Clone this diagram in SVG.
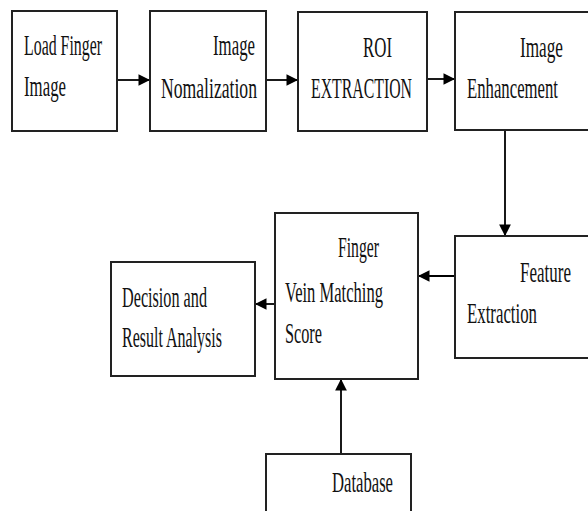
<svg xmlns="http://www.w3.org/2000/svg" width="588" height="511" viewBox="0 0 588 511">
<style>
.box{fill:#fff;stroke:#222;stroke-width:2}
.t{font-family:"Liberation Serif","Times New Roman",serif;font-size:29px;fill:#111}
.c{stroke:#000;stroke-width:1.8;fill:none;marker-end:url(#ah)}
</style>
<defs>
<marker id="ah" viewBox="0 0 10 10" refX="9" refY="5" markerWidth="6.5" markerHeight="6.5" orient="auto" markerUnits="strokeWidth">
<path d="M0,0 L10,5 L0,10 z" fill="#000"/>
</marker>
</defs>
<rect width="588" height="511" fill="#fff"/>
<g id="connectors">
<line class="c" x1="117" y1="80" x2="149" y2="80"/>
<line class="c" x1="266" y1="80" x2="297" y2="80"/>
<line class="c" x1="423" y1="79" x2="454" y2="79"/>
<line class="c" x1="505" y1="130" x2="505" y2="235"/>
<line class="c" x1="455" y1="276" x2="419" y2="276"/>
<line class="c" x1="275" y1="304" x2="256" y2="304"/>
<line class="c" x1="341" y1="454" x2="341" y2="380"/>
</g>
<g id="load">
<rect class="box" x="12" y="11" width="105" height="120"/>
<text class="t" x="24" y="55" textLength="78" lengthAdjust="spacingAndGlyphs">Load Finger</text>
<text class="t" x="24" y="96" textLength="42" lengthAdjust="spacingAndGlyphs">Image</text>
</g>
<g id="norm">
<rect class="box" x="150" y="11" width="116" height="120"/>
<text class="t" x="213" y="55" textLength="42" lengthAdjust="spacingAndGlyphs">Image</text>
<text class="t" x="161" y="98" textLength="96" lengthAdjust="spacingAndGlyphs">Nomalization</text>
</g>
<g id="roi">
<rect class="box" x="298" y="12" width="129" height="119"/>
<text class="t" x="363" y="57" textLength="29" lengthAdjust="spacingAndGlyphs">ROI</text>
<text class="t" x="311" y="98" textLength="101" lengthAdjust="spacingAndGlyphs">EXTRACTION</text>
</g>
<g id="enh">
<rect class="box" x="455" y="12" width="140" height="118"/>
<text class="t" x="520" y="57" textLength="43" lengthAdjust="spacingAndGlyphs">Image</text>
<text class="t" x="467" y="98" textLength="91" lengthAdjust="spacingAndGlyphs">Enhancement</text>
</g>
<g id="feature">
<rect class="box" x="455" y="236" width="140" height="122"/>
<text class="t" x="520" y="282" textLength="51" lengthAdjust="spacingAndGlyphs">Feature</text>
<text class="t" x="467" y="323" textLength="70" lengthAdjust="spacingAndGlyphs">Extraction</text>
</g>
<g id="match">
<rect class="box" x="275" y="213" width="143" height="166"/>
<text class="t" x="338" y="257" textLength="41" lengthAdjust="spacingAndGlyphs">Finger</text>
<text class="t" x="285" y="302" textLength="98" lengthAdjust="spacingAndGlyphs">Vein Matching</text>
<text class="t" x="285" y="343" textLength="37" lengthAdjust="spacingAndGlyphs">Score</text>
</g>
<g id="decision">
<rect class="box" x="111" y="262" width="144" height="114"/>
<text class="t" x="122" y="307" textLength="85" lengthAdjust="spacingAndGlyphs">Decision and</text>
<text class="t" x="122" y="347" textLength="100" lengthAdjust="spacingAndGlyphs">Result Analysis</text>
</g>
<g id="database">
<rect class="box" x="266" y="454" width="145" height="70"/>
<text class="t" x="332" y="492" textLength="61" lengthAdjust="spacingAndGlyphs">Database</text>
</g>
</svg>
